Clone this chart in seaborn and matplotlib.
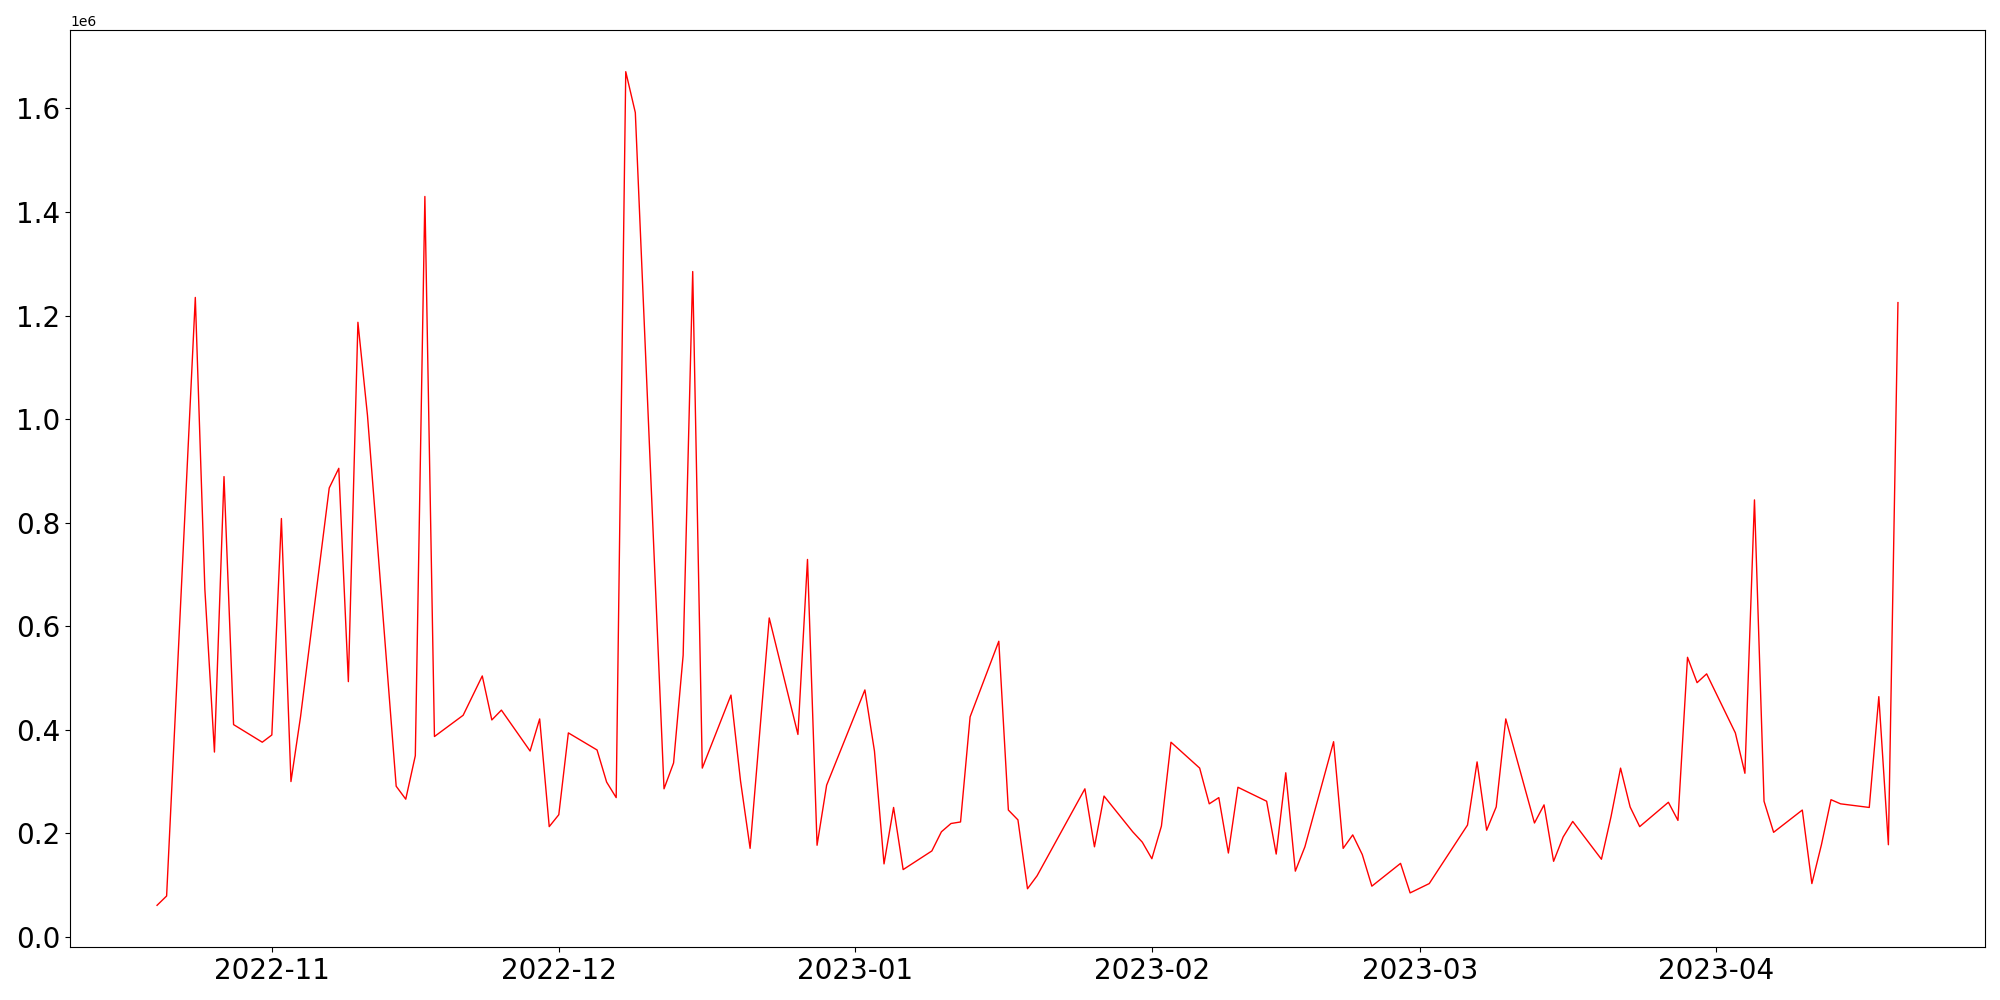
import matplotlib
matplotlib.use("Agg")
import matplotlib.pyplot as plt
import seaborn as sns
import pandas as pd

# daily values (in millions)
dates = [
    "2022-10-20", "2022-10-21", "2022-10-24", "2022-10-25", "2022-10-26", "2022-10-27", "2022-10-28",
    "2022-10-31", "2022-11-01", "2022-11-02", "2022-11-03", "2022-11-04",
    "2022-11-07", "2022-11-08", "2022-11-09", "2022-11-10", "2022-11-11",
    "2022-11-14", "2022-11-15", "2022-11-16", "2022-11-17", "2022-11-18",
    "2022-11-21", "2022-11-23", "2022-11-24", "2022-11-25",
    "2022-11-28", "2022-11-29", "2022-11-30", "2022-12-01", "2022-12-02",
    "2022-12-05", "2022-12-06", "2022-12-07", "2022-12-08", "2022-12-09",
    "2022-12-12", "2022-12-13", "2022-12-14", "2022-12-15", "2022-12-16",
    "2022-12-19", "2022-12-20", "2022-12-21", "2022-12-23",
    "2022-12-26", "2022-12-27", "2022-12-28", "2022-12-29",
    "2023-01-02", "2023-01-03", "2023-01-04", "2023-01-05", "2023-01-06",
    "2023-01-09", "2023-01-10", "2023-01-11", "2023-01-12", "2023-01-13",
    "2023-01-16", "2023-01-17", "2023-01-18", "2023-01-19", "2023-01-20",
    "2023-01-25", "2023-01-26", "2023-01-27",
    "2023-01-30", "2023-01-31", "2023-02-01", "2023-02-02", "2023-02-03",
    "2023-02-06", "2023-02-07", "2023-02-08", "2023-02-09", "2023-02-10",
    "2023-02-13", "2023-02-14", "2023-02-15", "2023-02-16", "2023-02-17",
    "2023-02-20", "2023-02-21", "2023-02-22", "2023-02-23", "2023-02-24",
    "2023-02-27", "2023-02-28", "2023-03-02",
    "2023-03-06", "2023-03-07", "2023-03-08", "2023-03-09", "2023-03-10",
    "2023-03-13", "2023-03-14", "2023-03-15", "2023-03-16", "2023-03-17",
    "2023-03-20", "2023-03-21", "2023-03-22", "2023-03-23", "2023-03-24",
    "2023-03-27", "2023-03-28", "2023-03-29", "2023-03-30", "2023-03-31",
    "2023-04-03", "2023-04-04", "2023-04-05", "2023-04-06", "2023-04-07",
    "2023-04-10", "2023-04-11", "2023-04-12", "2023-04-13", "2023-04-14",
    "2023-04-17", "2023-04-18", "2023-04-19", "2023-04-20",
]
values_m = [
    0.061, 0.079, 1.235, 0.671, 0.357, 0.889, 0.410,
    0.376, 0.390, 0.808, 0.300, 0.425,
    0.867, 0.905, 0.493, 1.187, 1.007,
    0.291, 0.266, 0.350, 1.430, 0.387,
    0.428, 0.504, 0.419, 0.438,
    0.359, 0.421, 0.213, 0.236, 0.394,
    0.361, 0.299, 0.269, 1.671, 1.592,
    0.286, 0.336, 0.544, 1.285, 0.326,
    0.467, 0.301, 0.171, 0.616,
    0.391, 0.729, 0.177, 0.293,
    0.477, 0.359, 0.141, 0.250, 0.130,
    0.166, 0.203, 0.219, 0.222, 0.425,
    0.571, 0.245, 0.226, 0.093, 0.118,
    0.286, 0.174, 0.272,
    0.203, 0.183, 0.151, 0.214, 0.376,
    0.326, 0.257, 0.269, 0.162, 0.289,
    0.262, 0.160, 0.317, 0.127, 0.174,
    0.377, 0.171, 0.197, 0.159, 0.098,
    0.142, 0.085, 0.103,
    0.216, 0.338, 0.206, 0.251, 0.421,
    0.220, 0.255, 0.146, 0.193, 0.223,
    0.150, 0.232, 0.326, 0.251, 0.213,
    0.260, 0.225, 0.540, 0.491, 0.508,
    0.394, 0.316, 0.844, 0.262, 0.202,
    0.245, 0.103, 0.178, 0.265, 0.257,
    0.250, 0.464, 0.178, 1.225,
]

df = pd.DataFrame({"date": pd.to_datetime(dates), "value": [v * 1e6 for v in values_m]})

fig, ax = plt.subplots(figsize=(20, 10), dpi=100)
sns.lineplot(data=df, x="date", y="value", color="red", linewidth=1.0, ax=ax)
ax.set_xlabel("")
ax.set_ylabel("")
plt.xticks(fontsize=20)
plt.yticks(fontsize=20)
fig.subplots_adjust(left=0.035, right=0.9925, top=0.97, bottom=0.053)
fig.savefig("out.png", dpi=100)
